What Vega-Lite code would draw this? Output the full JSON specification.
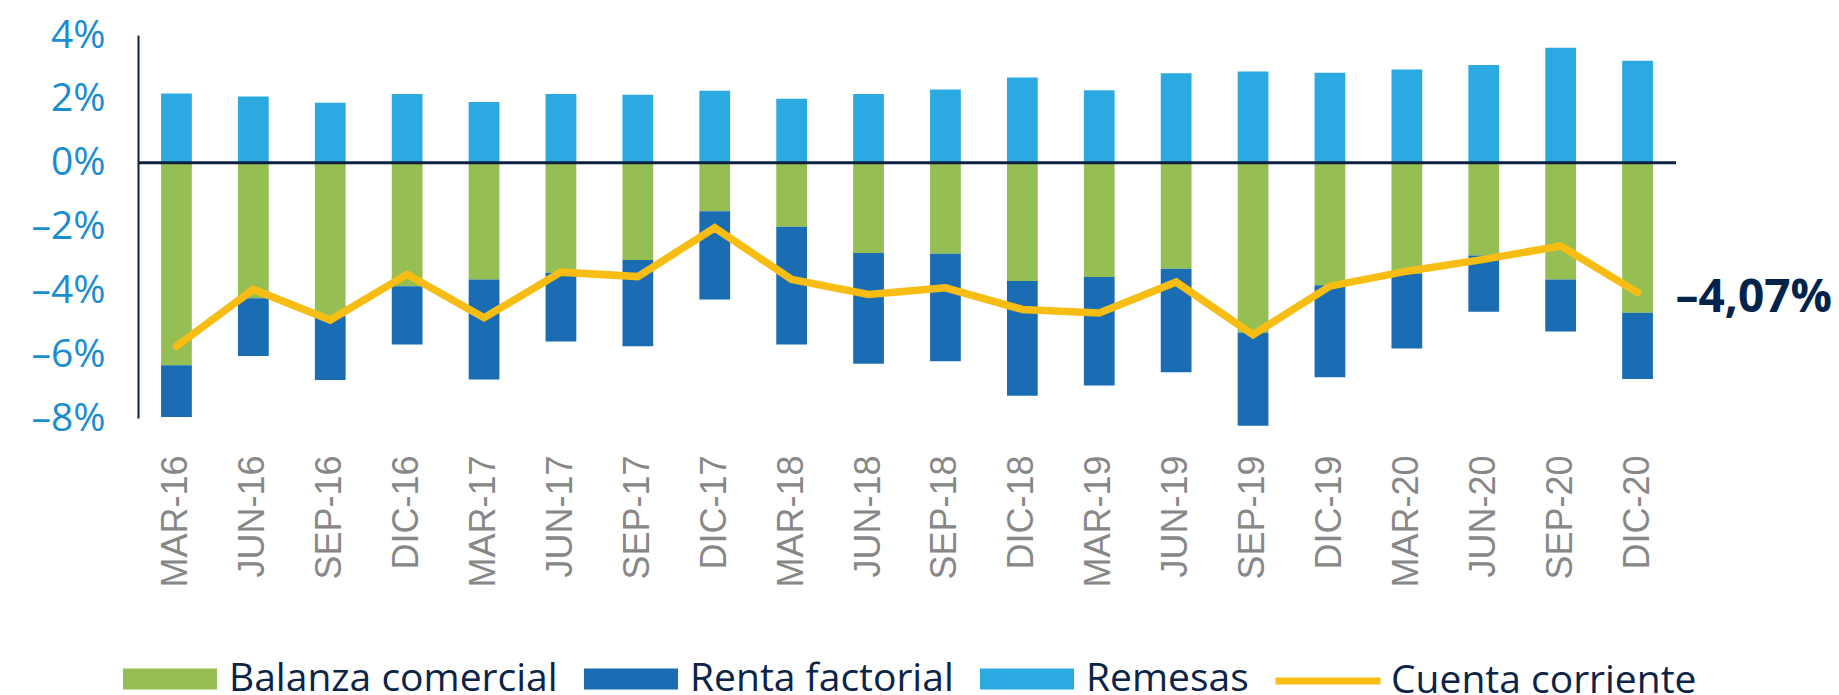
{
  "$schema": "https://vega.github.io/schema/vega-lite/v6.json",
  "autosize": {"type": "none"},
  "padding": {"left": 138, "top": 35, "right": 163, "bottom": 277},
  "width": 1538,
  "height": 383,
  "background": "white",
  "data": {
    "values": [
      {"fecha": "MAR-16", "serie": "Remesas", "valor": 2.17},
      {"fecha": "MAR-16", "serie": "Balanza comercial", "valor": -6.35},
      {"fecha": "MAR-16", "serie": "Renta factorial", "valor": -1.62},
      {"fecha": "MAR-16", "serie": "Cuenta corriente", "valor": -5.75},
      {"fecha": "JUN-16", "serie": "Remesas", "valor": 2.07},
      {"fecha": "JUN-16", "serie": "Balanza comercial", "valor": -4.25},
      {"fecha": "JUN-16", "serie": "Renta factorial", "valor": -1.81},
      {"fecha": "JUN-16", "serie": "Cuenta corriente", "valor": -3.97},
      {"fecha": "SEP-16", "serie": "Remesas", "valor": 1.88},
      {"fecha": "SEP-16", "serie": "Balanza comercial", "valor": -4.81},
      {"fecha": "SEP-16", "serie": "Renta factorial", "valor": -2.0},
      {"fecha": "SEP-16", "serie": "Cuenta corriente", "valor": -4.93},
      {"fecha": "DIC-16", "serie": "Remesas", "valor": 2.15},
      {"fecha": "DIC-16", "serie": "Balanza comercial", "valor": -3.87},
      {"fecha": "DIC-16", "serie": "Renta factorial", "valor": -1.83},
      {"fecha": "DIC-16", "serie": "Cuenta corriente", "valor": -3.5},
      {"fecha": "MAR-17", "serie": "Remesas", "valor": 1.9},
      {"fecha": "MAR-17", "serie": "Balanza comercial", "valor": -3.66},
      {"fecha": "MAR-17", "serie": "Renta factorial", "valor": -3.13},
      {"fecha": "MAR-17", "serie": "Cuenta corriente", "valor": -4.86},
      {"fecha": "JUN-17", "serie": "Remesas", "valor": 2.15},
      {"fecha": "JUN-17", "serie": "Balanza comercial", "valor": -3.45},
      {"fecha": "JUN-17", "serie": "Renta factorial", "valor": -2.15},
      {"fecha": "JUN-17", "serie": "Cuenta corriente", "valor": -3.43},
      {"fecha": "SEP-17", "serie": "Remesas", "valor": 2.13},
      {"fecha": "SEP-17", "serie": "Balanza comercial", "valor": -3.05},
      {"fecha": "SEP-17", "serie": "Renta factorial", "valor": -2.7},
      {"fecha": "SEP-17", "serie": "Cuenta corriente", "valor": -3.57},
      {"fecha": "DIC-17", "serie": "Remesas", "valor": 2.25},
      {"fecha": "DIC-17", "serie": "Balanza comercial", "valor": -1.52},
      {"fecha": "DIC-17", "serie": "Renta factorial", "valor": -2.77},
      {"fecha": "DIC-17", "serie": "Cuenta corriente", "valor": -2.04},
      {"fecha": "MAR-18", "serie": "Remesas", "valor": 2.0},
      {"fecha": "MAR-18", "serie": "Balanza comercial", "valor": -2.01},
      {"fecha": "MAR-18", "serie": "Renta factorial", "valor": -3.69},
      {"fecha": "MAR-18", "serie": "Cuenta corriente", "valor": -3.66},
      {"fecha": "JUN-18", "serie": "Remesas", "valor": 2.15},
      {"fecha": "JUN-18", "serie": "Balanza comercial", "valor": -2.83},
      {"fecha": "JUN-18", "serie": "Renta factorial", "valor": -3.47},
      {"fecha": "JUN-18", "serie": "Cuenta corriente", "valor": -4.13},
      {"fecha": "SEP-18", "serie": "Remesas", "valor": 2.29},
      {"fecha": "SEP-18", "serie": "Balanza comercial", "valor": -2.85},
      {"fecha": "SEP-18", "serie": "Renta factorial", "valor": -3.37},
      {"fecha": "SEP-18", "serie": "Cuenta corriente", "valor": -3.92},
      {"fecha": "DIC-18", "serie": "Remesas", "valor": 2.67},
      {"fecha": "DIC-18", "serie": "Balanza comercial", "valor": -3.71},
      {"fecha": "DIC-18", "serie": "Renta factorial", "valor": -3.59},
      {"fecha": "DIC-18", "serie": "Cuenta corriente", "valor": -4.6},
      {"fecha": "MAR-19", "serie": "Remesas", "valor": 2.27},
      {"fecha": "MAR-19", "serie": "Balanza comercial", "valor": -3.58},
      {"fecha": "MAR-19", "serie": "Renta factorial", "valor": -3.4},
      {"fecha": "MAR-19", "serie": "Cuenta corriente", "valor": -4.71},
      {"fecha": "JUN-19", "serie": "Remesas", "valor": 2.8},
      {"fecha": "JUN-19", "serie": "Balanza comercial", "valor": -3.32},
      {"fecha": "JUN-19", "serie": "Renta factorial", "valor": -3.25},
      {"fecha": "JUN-19", "serie": "Cuenta corriente", "valor": -3.74},
      {"fecha": "SEP-19", "serie": "Remesas", "valor": 2.86},
      {"fecha": "SEP-19", "serie": "Balanza comercial", "valor": -5.33},
      {"fecha": "SEP-19", "serie": "Renta factorial", "valor": -2.91},
      {"fecha": "SEP-19", "serie": "Cuenta corriente", "valor": -5.39},
      {"fecha": "DIC-19", "serie": "Remesas", "valor": 2.82},
      {"fecha": "DIC-19", "serie": "Balanza comercial", "valor": -3.84},
      {"fecha": "DIC-19", "serie": "Renta factorial", "valor": -2.88},
      {"fecha": "DIC-19", "serie": "Cuenta corriente", "valor": -3.87},
      {"fecha": "MAR-20", "serie": "Remesas", "valor": 2.92},
      {"fecha": "MAR-20", "serie": "Balanza comercial", "valor": -3.47},
      {"fecha": "MAR-20", "serie": "Renta factorial", "valor": -2.35},
      {"fecha": "MAR-20", "serie": "Cuenta corriente", "valor": -3.4},
      {"fecha": "JUN-20", "serie": "Remesas", "valor": 3.06},
      {"fecha": "JUN-20", "serie": "Balanza comercial", "valor": -2.91},
      {"fecha": "JUN-20", "serie": "Renta factorial", "valor": -1.76},
      {"fecha": "JUN-20", "serie": "Cuenta corriente", "valor": -3.03},
      {"fecha": "SEP-20", "serie": "Remesas", "valor": 3.6},
      {"fecha": "SEP-20", "serie": "Balanza comercial", "valor": -3.66},
      {"fecha": "SEP-20", "serie": "Renta factorial", "valor": -1.63},
      {"fecha": "SEP-20", "serie": "Cuenta corriente", "valor": -2.61},
      {"fecha": "DIC-20", "serie": "Remesas", "valor": 3.19},
      {"fecha": "DIC-20", "serie": "Balanza comercial", "valor": -4.7},
      {"fecha": "DIC-20", "serie": "Renta factorial", "valor": -2.08},
      {"fecha": "DIC-20", "serie": "Cuenta corriente", "valor": -4.07}
    ]
  },
  "encoding": {
    "x": {
      "field": "fecha",
      "type": "nominal",
      "sort": null,
      "scale": {"paddingInner": 0.6, "paddingOuter": 0.3},
      "axis": {
        "title": null,
        "domain": false,
        "ticks": false,
        "tickSize": 0,
        "labelAngle": -90,
        "labelAlign": "right",
        "labelBaseline": "middle",
        "labelPadding": 37,
        "labelFont": "Liberation Sans",
        "labelFontSize": 36,
        "labelColor": "#878787"
      }
    },
    "y": {
      "type": "quantitative",
      "scale": {"domain": [-8, 4], "nice": false, "zero": false},
      "axis": {
        "title": null,
        "values": [-8, -6, -4, -2, 0, 2, 4],
        "grid": false,
        "ticks": false,
        "tickSize": 0,
        "domainColor": "#0d2240",
        "domainWidth": 2,
        "labelPadding": 33,
        "labelFont": "Open Sans",
        "labelFontSize": 39,
        "labelColor": "#1a8dd0",
        "labelExpr": "(datum.value < 0 ? '–' : '') + abs(datum.value) + '%'"
      }
    }
  },
  "layer": [
    {
      "transform": [{"filter": "datum.serie != 'Cuenta corriente'"}],
      "mark": {"type": "bar"},
      "encoding": {
        "y": {"field": "valor", "type": "quantitative", "stack": "zero"},
        "order": {"field": "serie", "type": "nominal", "sort": "ascending"},
        "fill": {
          "field": "serie",
          "type": "nominal",
          "scale": {
            "domain": ["Balanza comercial", "Renta factorial", "Remesas"],
            "range": ["#95be53", "#1b6db3", "#2aaae0"]
          },
          "legend": {
            "title": null,
            "orient": "none",
            "direction": "horizontal",
            "legendX": -15,
            "legendY": 597,
            "symbolType": "M-1,-0.225H1V0.225H-1Z",
            "symbolSize": 8836,
            "symbolStrokeWidth": 0,
            "symbolOpacity": 1,
            "labelFont": "Open Sans",
            "labelFontSize": 39,
            "labelColor": "#0b2447",
            "labelOffset": 12,
            "columnPadding": 26,
            "labelLimit": 0
          }
        }
      }
    },
    {
      "data": {"values": [{"cero": 0}]},
      "mark": {"type": "rule", "color": "#0d2240", "strokeWidth": 3},
      "encoding": {
        "x": null,
        "y": {"field": "cero", "type": "quantitative"}
      }
    },
    {
      "transform": [{"filter": "datum.serie == 'Cuenta corriente'"}],
      "mark": {"type": "line", "strokeWidth": 7.5, "strokeCap": "round", "strokeJoin": "miter"},
      "encoding": {
        "y": {"field": "valor", "type": "quantitative"},
        "stroke": {
          "field": "serie",
          "type": "nominal",
          "scale": {"domain": ["Cuenta corriente"], "range": ["#f7bd13"]},
          "legend": {
            "title": null,
            "orient": "none",
            "direction": "horizontal",
            "legendX": 1134,
            "legendY": 590,
            "symbolType": "stroke",
            "symbolSize": 11025,
            "symbolStrokeWidth": 7,
            "labelFont": "Open Sans",
            "labelFontSize": 39,
            "labelColor": "#0b2447",
            "labelOffset": 7,
            "labelLimit": 0
          }
        }
      }
    },
    {
      "transform": [{"filter": "datum.serie == 'Cuenta corriente' && datum.fecha == 'DIC-20'"}],
      "mark": {
        "type": "text",
        "align": "left",
        "baseline": "middle",
        "dx": 38,
        "dy": 5,
        "font": "Open Sans",
        "fontSize": 46,
        "fontWeight": "bold",
        "color": "#03234b"
      },
      "encoding": {
        "y": {"field": "valor", "type": "quantitative"},
        "text": {"value": "–4,07%"}
      }
    }
  ],
  "config": {
    "view": {"stroke": null}
  }
}
